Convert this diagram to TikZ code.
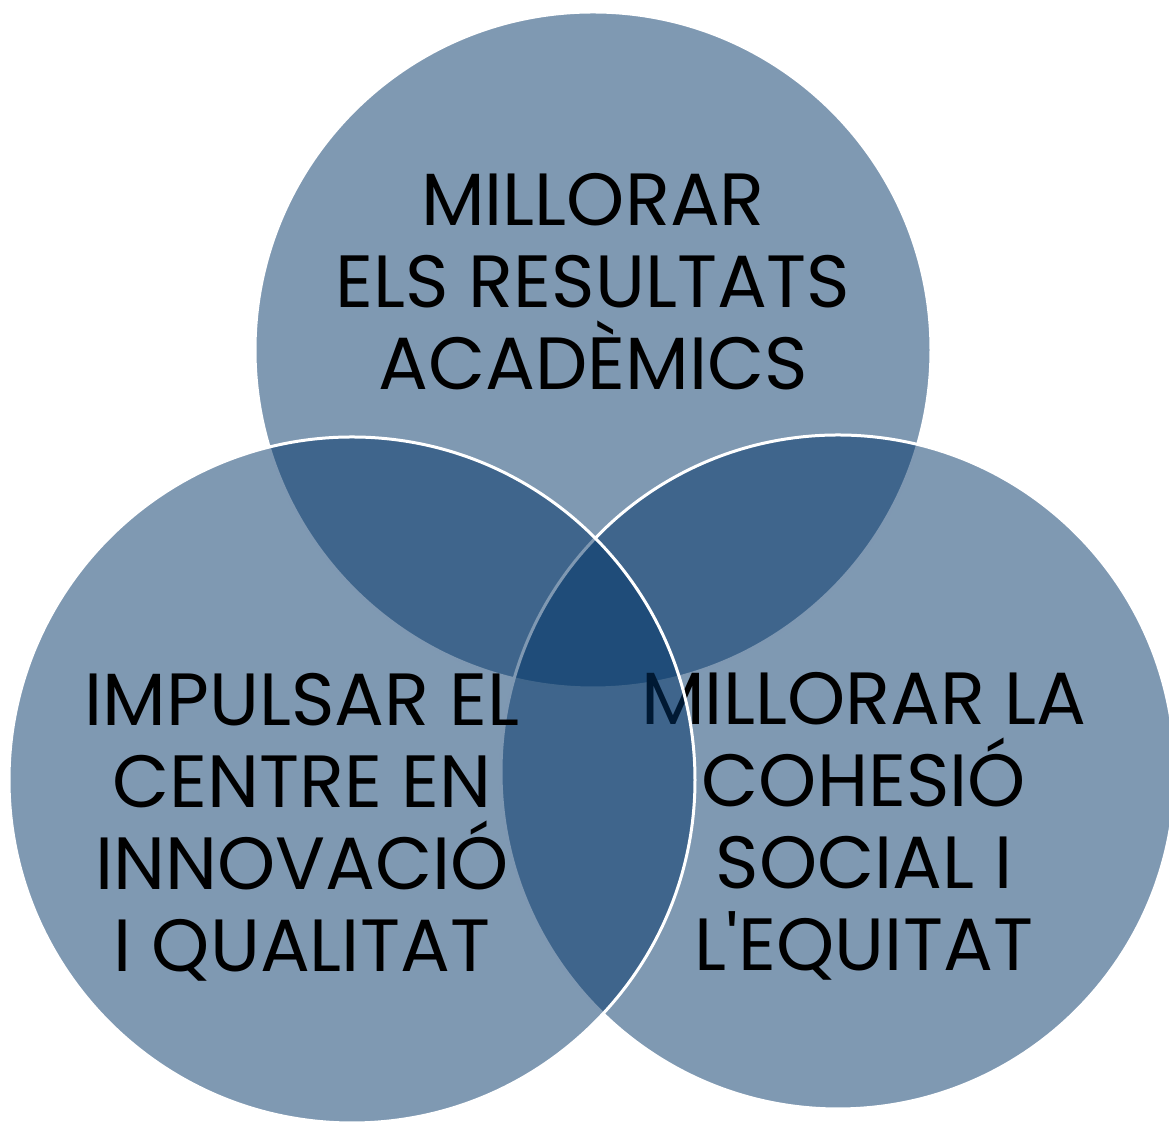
\documentclass[tikz,border=0pt]{standalone}
\usepackage{fontspec}
\setmainfont{Poppins}[Ligatures=TeXOff]
\usepackage{tikz}

\definecolor{vennblue}{HTML}{003366}

\begin{document}
\begin{tikzpicture}[
  x=0.5pt, y=0.5pt,
  venn/.style={fill=vennblue, fill opacity=0.5, draw=white, line width=1.5pt},
  goal/.style={align=center, inner sep=0pt, text=black, font=\fontsize{37}{41}\selectfont}
]
  \clip (0,0) rectangle (1169,1123);
  % top circle
  \path[venn] (593,773) circle [radius=338];
  \node[goal] (acad) at (593,841) {MILLORAR\\ ELS RESULTATS\\ ACADÈMICS};
  % right circle
  \path[venn] (838,351) circle [radius=337];
  \node[goal] (cohes) at (864,297) {MILLORAR LA\\ COHESIÓ\\ SOCIAL I\\ L'EQUITAT};
  % left circle
  \path[venn] (352,343) circle [radius=343];
  \node[goal] (innov) at (302,296) {IMPULSAR EL\\ CENTRE EN\\ INNOVACIÓ\\ I QUALITAT};
\end{tikzpicture}
\end{document}
